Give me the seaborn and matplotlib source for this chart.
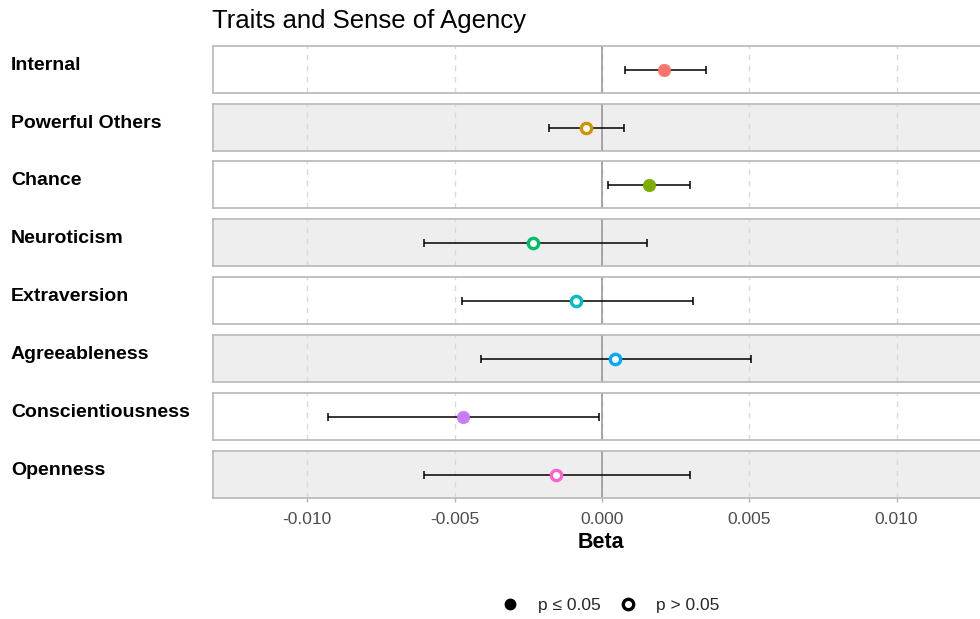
import matplotlib
matplotlib.use("Agg")
import matplotlib.pyplot as plt
from matplotlib.lines import Line2D
import seaborn as sns
import pandas as pd

traits = ["Internal", "Powerful Others", "Chance", "Neuroticism",
          "Extraversion", "Agreeableness", "Conscientiousness", "Openness"]
beta = [0.00210, -0.00054, 0.00160, -0.00234, -0.00088, 0.00045, -0.00473, -0.00156]
ci_low = [0.00078, -0.00180, 0.00020, -0.00603, -0.00475, -0.00410, -0.00930, -0.00605]
ci_high = [0.00353, 0.00075, 0.00300, 0.00153, 0.00308, 0.00505, -0.00010, 0.00300]
significant = [True, False, True, False, False, False, True, False]
colors = ["#F8766D", "#CD9600", "#7CAE00", "#00BE67",
          "#00BFC4", "#00A9FF", "#C77CFF", "#FF61CC"]
xticks = [-0.010, -0.005, 0.000, 0.005, 0.010]
xtick_labels = ["-0.010", "-0.005", "0.000", "0.005", "0.010"]

df = pd.DataFrame({"trait": traits, "beta": beta, "lo": ci_low,
                   "hi": ci_high, "sig": significant, "color": colors})

sns.set_theme(style="white")
plt.rcParams["font.family"] = ["Liberation Sans", "DejaVu Sans"]

W, H = 980, 619
fig = plt.figure(figsize=(9.8, 6.19), dpi=100)

panel_tops = [46, 104, 161, 219, 277, 335, 393, 451]
panel_h = 47
left_px, right_px = 213, 982

for i, row in df.iterrows():
    top = panel_tops[i]
    ax = fig.add_axes([left_px / W, 1 - (top + panel_h) / H,
                       (right_px - left_px) / W, panel_h / H])
    ax.set_facecolor("white" if i % 2 == 0 else "#EEEEEE")
    ax.set_xlim(-0.0132, 0.0129)
    ax.set_ylim(-1, 1)
    ax.set_xticks(xticks)
    ax.set_yticks([])
    ax.grid(axis="x", linestyle=(0, (4, 4)), color="#DADADA", linewidth=1.0)
    ax.axvline(0, color="#999999", linewidth=1.2, zorder=1.5)
    for s in ax.spines.values():
        s.set_color("#B8B8B8")
        s.set_linewidth(1.2)
    ax.errorbar([row["beta"]], [0], xerr=[[row["beta"] - row["lo"]], [row["hi"] - row["beta"]]],
                fmt="none", ecolor="black", elinewidth=1.1, capsize=3, capthick=1.1, zorder=2)
    pt = pd.DataFrame({"beta": [row["beta"]], "y": [0]})
    if row["sig"]:
        sns.scatterplot(data=pt, x="beta", y="y", ax=ax, marker="o", s=80,
                        facecolor=row["color"], edgecolor=row["color"], linewidth=0.5, zorder=3)
    else:
        sns.scatterplot(data=pt, x="beta", y="y", ax=ax, marker="o", s=55,
                        facecolor="white", edgecolor=row["color"], linewidth=2.4, zorder=3)
    ax.set_xlabel("")
    ax.set_ylabel("")
    if i < len(df) - 1:
        ax.tick_params(axis="x", length=0, labelbottom=False)
    else:
        ax.tick_params(axis="x", bottom=True, length=3, width=1.0, color="#B0B0B0",
                       pad=7, labelsize=12.5, labelcolor="#4D4D4D")
        ax.set_xticklabels(xtick_labels)
    fig.text(11 / W, 1 - (top + panel_h / 2 - 4) / H, row["trait"],
             fontsize=14, fontweight="bold", ha="left", va="center", color="black")

fig.text(212 / W, 1 - 21 / H, "Traits and Sense of Agency", fontsize=18.5,
         ha="left", va="center", color="black")
fig.text(601 / W, 1 - 543 / H, "Beta", fontsize=15.5, fontweight="bold",
         ha="center", va="center", color="black")

handles = [Line2D([], [], marker="o", linestyle="none", markerfacecolor="black",
                  markeredgecolor="black", markersize=7.5),
           Line2D([], [], marker="o", linestyle="none", markerfacecolor="white",
                  markeredgecolor="black", markeredgewidth=2.4, markersize=7.5)]
fig.legend(handles, ["p ≤ 0.05", "p > 0.05"], loc="center",
           bbox_to_anchor=(606 / W, 1 - 605 / H), ncol=2, frameon=False,
           fontsize=12.5, handletextpad=0.6, columnspacing=0.6)

fig.savefig("out.png", dpi=100)
